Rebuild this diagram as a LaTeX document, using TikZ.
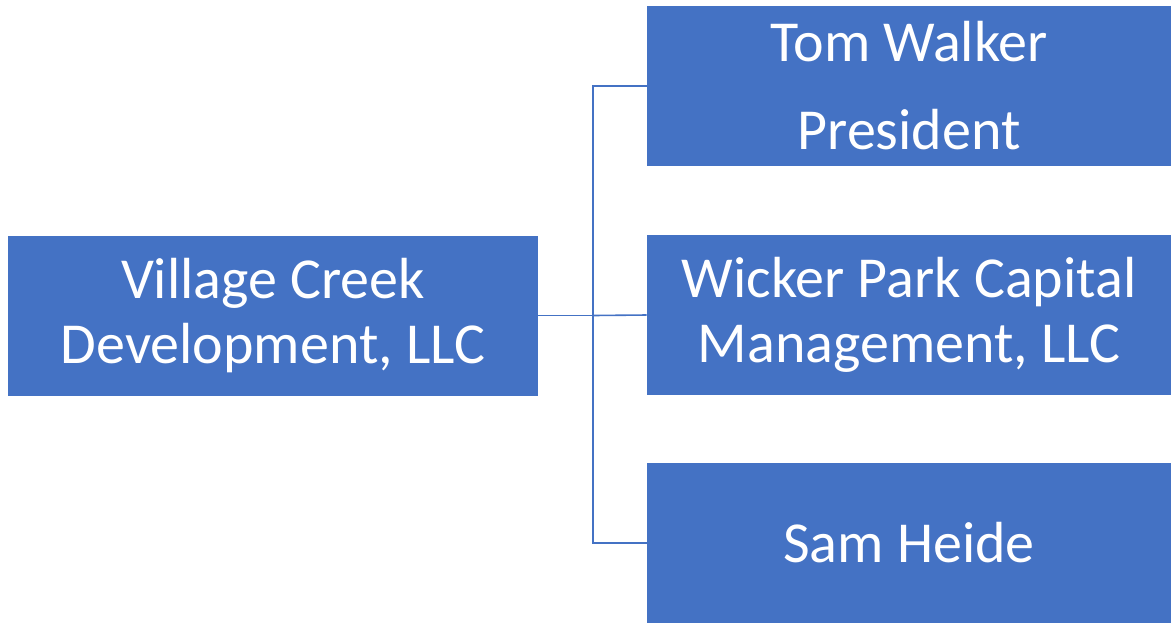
\documentclass[tikz,border=0pt]{standalone}
\usepackage{fontspec}
\setmainfont{Carlito}
\usepackage{tikz}
\usetikzlibrary{positioning}
\definecolor{orgblue}{HTML}{4472C4}

\begin{document}
\begin{tikzpicture}[
  x=0.5pt, y=-0.5pt,
  box/.style={fill=orgblue, text=white, align=center, inner sep=0pt, font=\fontsize{29}{32.5}\selectfont, minimum height=80pt},
  link/.style={draw=orgblue, line width=0.8pt},
]
\useasboundingbox (0,0) rectangle (1171,622);
% --- parent (left) ---
\node[box, minimum width=265pt] (vc) at (273,315.5) {Village Creek\\ Development, LLC};
% --- members (right column) ---
\node[box, minimum width=262pt] (tw) at (909,86) {Tom Walker\\[11.5pt] President};
\node[box, minimum width=262pt] (wp) at (909,315) {Wicker Park Capital\\ Management, LLC};
\node[box, minimum width=262pt] (sh) at (909,543) {Sam Heide};
% --- connectors ---
\coordinate (split) at (593,315.5);
\draw[link] (vc.east) -- (split);
\draw[link] (split) |- (tw.west);
\draw[link] (split) -- (wp.west);
\draw[link] (split) |- (sh.west);
\end{tikzpicture}
\end{document}
